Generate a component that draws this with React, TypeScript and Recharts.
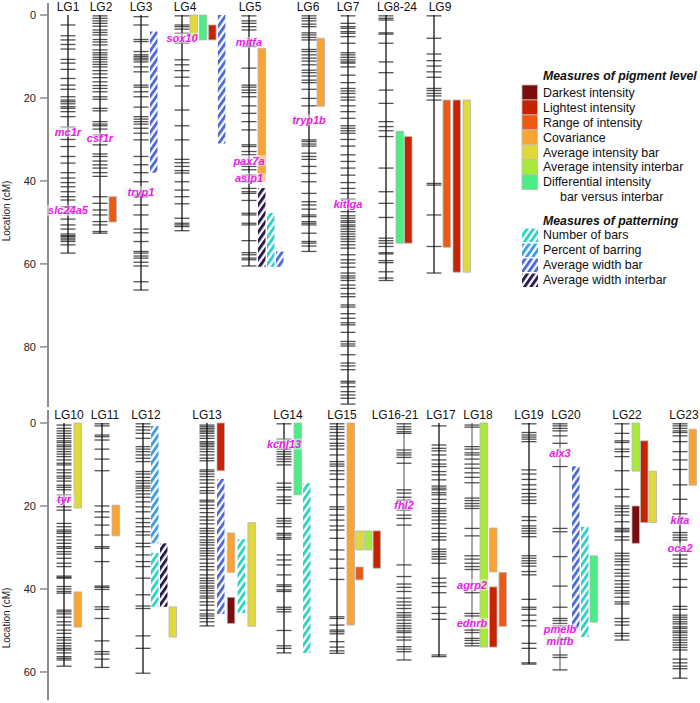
import React from 'react';
import {
  ScatterChart,
  Scatter,
  XAxis,
  YAxis,
  ReferenceArea,
  ReferenceLine,
  ReferenceDot,
} from 'recharts';

const FONT = '"Liberation Sans", Arial, Helvetica, sans-serif';
const GENE_COLOR = '#e61ee6';

// trait colours
const traitColors: Record<string, string> = {
  darkest: '#7b0d0d',
  lightest: '#c62300',
  range: '#ec5a14',
  covariance: '#fba333',
  avgBar: '#e1d83b',
  avgInterbar: '#a8ea3c',
  differential: '#4ced84',
  nBars: '#2dd2c5',
  pctBarring: '#3b9fe8',
  widthBar: '#4d6ad8',
  widthInterbar: '#2a1a4a',
};
const hatchedTraits = ['nBars', 'pctBarring', 'widthBar', 'widthInterbar'];

const pigmentLegend = [
  ['darkest', 'Darkest intensity'],
  ['lightest', 'Lightest intensity'],
  ['range', 'Range of intensity'],
  ['covariance', 'Covariance'],
  ['avgBar', 'Average intensity bar'],
  ['avgInterbar', 'Average intensity interbar'],
  ['differential', 'Differential intensity'],
];
const patternLegend = [
  ['nBars', 'Number of bars'],
  ['pctBarring', 'Percent of barring'],
  ['widthBar', 'Average width bar'],
  ['widthInterbar', 'Average width interbar'],
];

// marker positions (cM) per linkage group
const lg1 = [2.4, 5, 6, 7.1, 8.2, 10.7, 11.6, 13.1, 15.3, 16.9, 17.9, 19.7, 20.5, 20.9, 21.4, 22.1, 22.5, 23.3, 24.5, 27, 30, 31.7, 34.1, 35.7, 38, 39.3, 40.4, 41.4, 42.6, 43.8, 44.6, 46.2, 47.8, 49.2, 50.6, 51.6, 52.8, 53.2, 53.4, 53.8, 54.2, 54.6, 55.4, 57.4];
const lg2 = [0.2, 0.8, 1.4, 2, 2.7, 3.6, 4.2, 4.8, 5.9, 6.5, 7.2, 8.4, 9.1, 9.6, 10.2, 10.7, 11.3, 11.9, 12.5, 13.4, 14.2, 15.1, 16.1, 17, 17.7, 18.5, 19.7, 20.3, 22.5, 23.1, 25.7, 26.3, 26.7, 27.5, 28.9, 31.3, 33.5, 34.1, 35.2, 36.1, 36.9, 38, 38.9, 43.8, 45.4, 47, 48.2, 49.8, 50.6, 52.2, 52.6];
const lg3 = [0.4, 2.4, 5.9, 6.4, 8.8, 9.6, 10, 10.4, 10.8, 11.3, 12.5, 13.7, 16.9, 17.4, 18.5, 19.7, 22.2, 24.5, 25.1, 25.7, 26.3, 27.3, 28.5, 30.1, 34.1, 36.1, 38, 40.2, 43.4, 43.8, 45.8, 48.2, 51.6, 52.5, 54.6, 57, 57.4, 58.1, 58.6, 59.6, 60.5, 64.3, 66.3];
const lg4 = [0.2, 2.4, 2.8, 3.4, 4.4, 6.8, 10.8, 12, 13.4, 15, 17.1, 22.9, 26.7, 30.1, 34.8, 35.6, 36.5, 37.5, 38.1, 40.2, 42.2, 43.8, 45.5, 49, 50.2, 50.6, 51, 52];
const lg5 = [0.2, 1.4, 2, 2.8, 3.6, 7.6, 12.8, 16.9, 17.4, 18.1, 18.7, 19.7, 21.9, 23.7, 25.7, 27.7, 31.3, 31.7, 32.9, 33.7, 35.9, 36.5, 37.3, 38.6, 40.2, 41.8, 42.6, 43, 44.7, 47.8, 48.2, 50.2, 50.6, 54.4, 57.3, 57.8, 58.6, 59, 60.5];
const lg6 = [0.2, 0.8, 1.4, 2.2, 2.8, 4.3, 4.8, 5.4, 6, 8.3, 8.8, 9.6, 10.4, 11.1, 12, 13.3, 13.9, 14.7, 15.7, 16.3, 17.9, 20.1, 21.9, 30.1, 30.5, 31.1, 31.6, 33.3, 34.1, 34.8, 36.5, 38.2, 40.2, 43, 45, 45.8, 46.8, 48.2, 48.6, 49.8, 50.2, 50.6, 52.6, 54.6, 55, 55.7, 57];
const lg7 = [0.2, 2, 2.8, 3.2, 4, 4.4, 5.2, 6.8, 9.1, 9.6, 10.2, 10.8, 11.3, 11.6, 12.5, 14.5, 16.3, 17.7, 18.3, 18.9, 19.8, 20.5, 21.9, 23.3, 24.9, 26.7, 27.3, 27.9, 28.5, 30, 31.6, 33.7, 35.3, 36.9, 38.6, 40.4, 41.8, 43, 44.4, 47.4, 48.4, 49, 49.6, 50, 50.6, 51, 51.6, 52.2, 52.8, 53.4, 54, 54.6, 55.4, 56.2, 57.8, 59, 59.8, 60.8, 62.2, 62.9, 63.4, 64, 65.1, 65.9, 67.2, 67.9, 69.9, 70.4, 72, 73.1, 74.2, 74.7, 76.5, 78.7, 79.3, 79.8, 81.9, 83.9, 84.6, 85.5, 88.3, 88.7, 89.6, 90.8, 91.6, 92.4, 93.8];
const lg8_24 = [0.2, 0.8, 1.2, 4.3, 4.6, 6.8, 11.3, 13.9, 18.1, 21.3, 25.7, 26.9, 27.9, 29.3, 36.9, 42.6, 45.4, 48.8, 53.8, 54.4, 55, 55.8, 57.3, 57.6, 59.2, 59.7, 61.9, 63.4, 64];
const lg9 = [0.2, 5.6, 9.4, 11, 12.3, 13.7, 15, 17.7, 18.2, 18.9, 19.5, 20.5, 40.6, 41, 48.2, 55.8, 62.2];
const lg10 = [0.5, 1.3, 1.9, 2.5, 3.1, 3.7, 4.3, 4.7, 5.3, 5.7, 6.3, 6.9, 7.5, 8.1, 8.9, 9.7, 10.1, 11.3, 12, 12.8, 13.3, 14, 15, 15.5, 16.1, 17.3, 18.6, 20.2, 21, 24.2, 25, 25.8, 26.2, 26.6, 27.4, 28.2, 29, 29.8, 30.2, 31, 31.6, 32.6, 33.8, 34.6, 36.9, 37.2, 37.4, 39.4, 40, 40.6, 41, 45.1, 45.5, 46, 46.8, 47.9, 48.7, 49.9, 50.7, 51.7, 52.3, 53.1, 53.7, 54.3, 54.7, 55.4, 56.3, 56.7, 57.1, 58.6];
const lg11 = [0.2, 0.7, 2.9, 3.3, 4.1, 6.3, 8.7, 11.5, 20, 21.4, 22.7, 24.6, 27, 29.8, 30.2, 33.4, 39.3, 39.6, 40.1, 44.3, 44.9, 47.1, 52.5, 55.1, 55.7, 56.9, 58.9];
const lg12 = [0.2, 0.9, 1.7, 2.5, 3.7, 5.7, 6.3, 6.9, 7.7, 8.5, 9.3, 11.7, 12.3, 13.1, 13.9, 14.5, 15.2, 15.7, 16.3, 17.1, 17.9, 19, 20.2, 21.4, 23, 24, 25, 26.2, 27, 29, 29.8, 31.8, 33.4, 34.6, 37.4, 41.4, 44.1, 44.7, 51.3, 54.3, 60.3];
const lg13 = [0.5, 0.9, 1.3, 1.7, 2.1, 2.5, 3.1, 3.7, 4.5, 4.9, 5.3, 5.7, 6.3, 6.9, 7.7, 8.5, 9.1, 11.3, 11.7, 12.3, 12.9, 13.7, 14.5, 15.5, 16.3, 16.9, 18.6, 19, 19.8, 20.6, 21.6, 22.6, 23.4, 24.3, 25.4, 26, 26.6, 27.4, 28.2, 28.8, 29.4, 30.2, 30.8, 31.4, 32, 32.8, 33.8, 34.6, 35.4, 36.6, 37.4, 38, 38.6, 39.3, 39.8, 40.4, 41, 41.7, 42.2, 43.1, 43.9, 45.1, 46, 46.5, 47.1, 47.9, 48.9];
const lg14 = [0.2, 3.9, 4.5, 6.3, 6.9, 7.5, 8.1, 8.7, 9.3, 10.1, 14.5, 15.5, 16.1, 17.8, 18.6, 19.4, 23, 23.6, 24.2, 25, 26.6, 27, 27.6, 28, 31.8, 33, 34.2, 36.6, 39, 39.4, 40.2, 40.6, 44.4, 44.9, 45.5, 50, 53.7, 54.3, 55.4];
const lg15 = [0.2, 0.9, 1.5, 2.3, 3.1, 3.9, 4.9, 5.5, 6.3, 7.7, 9.3, 9.9, 10.4, 11.5, 12.3, 13.6, 15.4, 17.3, 20.2, 20.8, 22.2, 23.4, 24.8, 25.8, 27.8, 30.6, 32.8, 35, 37.7, 46.7, 47.1, 48.7, 49.9, 50.3, 50.8, 52.7, 54, 54.9, 55.5];
const lg16_21 = [0.2, 0.9, 1.5, 2.1, 2.5, 6.5, 7.2, 7.7, 8.3, 9.7, 16.1, 16.9, 17.9, 18.6, 21, 22.2, 23, 24.6, 34.2, 37, 38.8, 39.6, 40.6, 42.2, 43.1, 43.9, 44.7, 45.7, 46.3, 46.8, 47.5, 48.3, 48.9, 49.5, 50.1, 50.5, 51.6, 52.3, 53.9, 54.5, 55.1, 57.1];
const lg17 = [0.7, 5.3, 6.1, 6.7, 7.7, 8.9, 9.9, 10.5, 11.7, 12.5, 13.7, 15.2, 15.7, 16.1, 16.8, 17.3, 18.4, 19.4, 20.6, 21.2, 21.8, 22.6, 23.4, 24.3, 25.4, 26.6, 27.4, 28.2, 30.4, 31, 31.6, 32.2, 32.8, 33.8, 37.4, 38.5, 39.4, 40.9, 44.4, 45.9, 47.3, 55.9, 56.3];
const lg18 = [0.5, 1, 5.7, 6.3, 7.2, 7.7, 8.7, 9.9, 10.9, 12, 13.1, 14.4, 18.1, 18.7, 19.4, 20, 20.6, 25.4, 27.2, 32, 32.8, 33.8, 34.6, 35.3, 40.9, 45.9, 46.5, 49.9, 50.5, 51.9, 52.4, 53.1, 53.7];
const lg19 = [0.2, 2.3, 2.9, 3.4, 3.9, 4.5, 11.3, 12.3, 13.6, 14.9, 16, 17, 17.8, 18.6, 19.4, 22.6, 23.5, 24.8, 25.4, 26, 26.6, 27.4, 32, 32.6, 33.2, 33.8, 34.5, 35.8, 36.6, 42.5, 44.4, 44.9, 46.3, 47.6, 48.9, 53.1, 54.3, 57.8, 58.1];
const lg20 = [0.2, 0.7, 1.3, 1.9, 3.1, 4.9, 10.5, 25.4, 26.2, 32.2, 39.3, 44.4, 47.1, 47.6, 48.3, 48.9, 55.9, 56.5, 59.5];
const lg22 = [0.2, 2.5, 4.3, 4.7, 6.3, 6.9, 8.1, 11.5, 16, 17.8, 20, 20.6, 21.4, 22.2, 23.8, 25.4, 25.8, 26.2, 27.4, 28.2, 31.4, 32, 32.8, 33.4, 34.2, 35.3, 36.2, 36.9, 38, 38.8, 39.6, 40.4, 41, 42, 43.1, 43.6, 47.1, 47.9, 48.7, 50.7, 51.3, 52.3];
const lg23 = [0.2, 0.7, 1.3, 1.9, 2.3, 3.1, 4.5, 6.9, 8.9, 11.2, 14.9, 18.4, 21.9, 26.4, 27, 27.6, 28.2, 31.8, 32.8, 33.8, 34.6, 37.7, 39.6, 44.2, 44.9, 46.3, 46.8, 47.3, 47.9, 48.4, 49.1, 49.5, 50.1, 50.5, 51.1, 51.7, 52.3, 52.9, 53.5, 54.1, 54.7, 56.9, 57.8, 58.6, 59.2, 61.5];

const markers: Record<string, number[]> = {
  LG1: lg1, LG2: lg2, LG3: lg3, LG4: lg4, LG5: lg5, LG6: lg6, LG7: lg7, 'LG8-24': lg8_24, LG9: lg9,
  LG10: lg10, LG11: lg11, LG12: lg12, LG13: lg13, LG14: lg14, LG15: lg15, 'LG16-21': lg16_21,
  LG17: lg17, LG18: lg18, LG19: lg19, LG20: lg20, LG22: lg22, LG23: lg23,
};

// QTL intervals: [group, lane, trait, start cM, end cM]
type Qtl = [string, number, string, number, number];
const topQtls: Qtl[] = [
  ['LG2', 0, 'range', 43.8, 49.9],
  ['LG3', 0, 'widthBar', 4, 38],
  ['LG4', 0, 'avgBar', 0, 6],
  ['LG4', 1, 'differential', 0, 6],
  ['LG4', 2, 'lightest', 2.4, 6],
  ['LG4', 3, 'widthBar', 0, 31],
  ['LG5', 0, 'covariance', 8, 40],
  ['LG5', 0, 'widthInterbar', 41.7, 60.7],
  ['LG5', 1, 'nBars', 47.7, 60.7],
  ['LG5', 2, 'widthBar', 57, 60.7],
  ['LG6', 0, 'covariance', 5.6, 22],
  ['LG8-24', 0, 'differential', 28, 55],
  ['LG8-24', 1, 'lightest', 29.3, 55],
  ['LG9', 0, 'range', 20.5, 56],
  ['LG9', 1, 'lightest', 20.5, 62],
  ['LG9', 2, 'avgBar', 20.5, 62],
];
const bottomQtls: Qtl[] = [
  ['LG10', 0, 'avgBar', 0, 20.5],
  ['LG10', 0, 'covariance', 40.7, 49.2],
  ['LG11', 0, 'covariance', 19.8, 27.2],
  ['LG12', 0, 'pctBarring', 0.7, 29],
  ['LG12', 0, 'nBars', 31.3, 44.3],
  ['LG12', 1, 'widthInterbar', 29, 44.3],
  ['LG12', 2, 'avgBar', 44.3, 51.6],
  ['LG13', 0, 'lightest', 0, 11.5],
  ['LG13', 0, 'widthBar', 13.5, 46],
  ['LG13', 1, 'covariance', 26.5, 36],
  ['LG13', 1, 'darkest', 42, 48.3],
  ['LG13', 2, 'nBars', 28, 45.8],
  ['LG13', 3, 'avgBar', 24, 49],
  ['LG14', 0, 'differential', 0, 17.3],
  ['LG14', 1, 'nBars', 14.5, 55.4],
  ['LG15', 0, 'covariance', 0, 48.7],
  ['LG15', 1, 'avgBar', 26, 30.6],
  ['LG15', 2, 'avgInterbar', 26, 30.6],
  ['LG15', 3, 'lightest', 26, 35],
  ['LG15', 1, 'range', 34.7, 37.8],
  ['LG18', 0, 'avgInterbar', 0, 54],
  ['LG18', 1, 'covariance', 25.3, 35.9],
  ['LG18', 1, 'lightest', 39.5, 54],
  ['LG18', 2, 'range', 36, 49],
  ['LG20', 0, 'widthBar', 10.4, 50],
  ['LG20', 1, 'nBars', 25, 51.6],
  ['LG20', 2, 'differential', 32, 48],
  ['LG22', 0, 'avgInterbar', 0, 11.6],
  ['LG22', 1, 'lightest', 4.3, 24],
  ['LG22', 2, 'avgBar', 11.6, 24],
  ['LG22', 0, 'darkest', 20, 29],
  ['LG23', 0, 'covariance', 1.5, 15],
];

// candidate genes: [group, gene, cM]
type Gene = [string, string, number];
const topGenes: Gene[] = [
  ['LG1', 'mc1r', 28.1], ['LG1', 'slc24a5', 47.1], ['LG2', 'csf1r', 29.6], ['LG3', 'tryp1', 42.6],
  ['LG4', 'sox10', 5.6], ['LG5', 'mitfa', 6.6], ['LG5', 'pax7a', 35.1], ['LG5', 'asip1', 39.4],
  ['LG6', 'tryp1b', 25.3], ['LG7', 'kitlga', 45.6],
];
const bottomGenes: Gene[] = [
  ['LG10', 'tyr', 18.4], ['LG14', 'kcnj13', 5.1], ['LG16-21', 'fhl2', 19.8], ['LG18', 'agrp2', 39],
  ['LG18', 'ednrb', 48.3], ['LG20', 'alx3', 7.3], ['LG20', 'pmelb', 49.7], ['LG20', 'mitfb', 52.6],
  ['LG23', 'kita', 23.4], ['LG23', 'oca2', 30.2],
];

// track layout along the horizontal axis
type Group = { name: string; x: number; labelX: number; laneStart?: number; laneStep?: number; grey?: boolean };
const topGroups: Group[] = [
  { name: 'LG1', x: 68, labelX: 68 },
  { name: 'LG2', x: 100, labelX: 101 },
  { name: 'LG3', x: 141, labelX: 141 },
  { name: 'LG4', x: 182, labelX: 185, laneStart: 8, laneStep: 9.3 },
  { name: 'LG5', x: 249, labelX: 250 },
  { name: 'LG6', x: 309, labelX: 308, laneStart: 8 },
  { name: 'LG7', x: 348, labelX: 348 },
  { name: 'LG8-24', x: 386, labelX: 397, laneStart: 10, laneStep: 8.5 },
  { name: 'LG9', x: 434, labelX: 440, laneStep: 10 },
];
const bottomGroups: Group[] = [
  { name: 'LG10', x: 64, labelX: 69, laneStart: 10 },
  { name: 'LG11', x: 102, labelX: 105, laneStart: 10 },
  { name: 'LG12', x: 143, labelX: 146, laneStart: 8 },
  { name: 'LG13', x: 207, labelX: 207, laneStart: 10, laneStep: 10.3 },
  { name: 'LG14', x: 284, labelX: 288, laneStart: 10 },
  { name: 'LG15', x: 337, labelX: 342, laneStart: 10, laneStep: 8.7 },
  { name: 'LG16-21', x: 404, labelX: 395, grey: true },
  { name: 'LG17', x: 439, labelX: 441 },
  { name: 'LG18', x: 472, labelX: 478, laneStart: 8, laneStep: 9.5, grey: true },
  { name: 'LG19', x: 529, labelX: 529 },
  { name: 'LG20', x: 560, labelX: 566, laneStart: 12, grey: true },
  { name: 'LG22', x: 622, labelX: 627, laneStart: 10, laneStep: 8.5 },
  { name: 'LG23', x: 680, labelX: 684 },
];

const BAR_W = 7.5;

const HatchDefs = ({ prefix }: { prefix: string }) => (
  <defs>
    {hatchedTraits.map((t) => (
      <pattern
        key={t}
        id={`${prefix}-${t}`}
        patternUnits="userSpaceOnUse"
        width={5.2}
        height={5.2}
        patternTransform="rotate(35)"
      >
        <rect width={5.2} height={5.2} fill="#fff" />
        <rect width={2.9} height={5.2} fill={traitColors[t]} />
      </pattern>
    ))}
  </defs>
);

const MarkerTick = (props: any) => {
  const { cx, cy } = props;
  if (cx == null || cy == null) return null;
  return (
    <line x1={cx - 7.5} x2={cx + 7.5} y1={cy} y2={cy} stroke="#111" strokeOpacity={0.72} strokeWidth={1.3} />
  );
};

const geneLabel = (name: string) => (props: any) => {
  const vb = props.viewBox || {};
  const cx = (vb.x || 0) + (vb.width || 0) / 2;
  const cy = (vb.y || 0) + (vb.height || 0) / 2;
  const w = name.length * 6.3 + 2;
  return (
    <g>
      <rect x={cx - w / 2} y={cy - 5.5} width={w} height={11} fill="#f2f2f2" fillOpacity={0.55} />
      <text
        x={cx}
        y={cy}
        textAnchor="middle"
        dominantBaseline="central"
        fill={GENE_COLOR}
        fontSize={11}
        fontWeight="bold"
        fontStyle="italic"
        fontFamily={FONT}
      >
        {name}
      </text>
    </g>
  );
};

const groupLabel = (name: string) => (props: any) => {
  const vb = props.viewBox || {};
  const cx = (vb.x || 0) + (vb.width || 0) / 2;
  const cy = (vb.y || 0) + (vb.height || 0) / 2;
  return (
    <text x={cx} y={cy} textAnchor="middle" dominantBaseline="central" fill="#111" fontSize={12} fontFamily={FONT}>
      {name}
    </text>
  );
};

const axisTitle = (shift: number) => (props: any) => {
  const vb = props.viewBox || {};
  const cy = (vb.y || 0) + (vb.height || 0) / 2 + shift;
  const cx = 6;
  return (
    <text
      x={cx}
      y={cy}
      transform={`rotate(-90 ${cx} ${cy})`}
      textAnchor="middle"
      dominantBaseline="central"
      fill="#222"
      fontSize={10}
      fontFamily={FONT}
    >
      Location (cM)
    </text>
  );
};

type PanelProps = {
  prefix: string;
  groups: Group[];
  qtls: Qtl[];
  genes: Gene[];
  top: number;
  height: number;
  margin: { top: number; bottom: number };
  yDomain: [number, number];
  yTicks: number[];
  nameY: number;
  titleShift: number;
};

const Panel = ({ prefix, groups, qtls, genes, top, height, margin, yDomain, yTicks, nameY, titleShift }: PanelProps) => {
  const byName: Record<string, Group> = {};
  groups.forEach((g) => (byName[g.name] = g));
  const points = groups.flatMap((g) => markers[g.name].map((cm) => ({ x: g.x, y: cm })));

  return (
    <div style={{ position: 'absolute', left: 0, top }}>
      <ScatterChart width={700} height={height} margin={{ top: margin.top, right: 0, bottom: margin.bottom, left: 0 }}>
        <HatchDefs prefix={prefix} />
        <XAxis type="number" dataKey="x" domain={[48, 700]} hide allowDataOverflow />
        <YAxis
          type="number"
          dataKey="y"
          domain={yDomain}
          reversed
          allowDataOverflow
          ticks={yTicks}
          width={48}
          tickSize={8}
          tickMargin={4}
          axisLine={{ stroke: '#8c8c8c', strokeWidth: 2 }}
          tickLine={{ stroke: '#8c8c8c', strokeWidth: 1.5 }}
          tick={{ fontSize: 11, fill: '#222', fontFamily: FONT }}
          label={{ content: axisTitle(titleShift) }}
        />
        {groups.map((g) => (
          <ReferenceLine
            key={`line-${g.name}`}
            segment={[
              { x: g.x, y: 0 },
              { x: g.x, y: Math.max(...markers[g.name]) },
            ]}
            stroke={g.grey ? '#8a8a8a' : '#333'}
            strokeWidth={1.5}
            ifOverflow="visible"
          />
        ))}
        <Scatter data={points} shape={MarkerTick} isAnimationActive={false} />
        {qtls.map(([lg, lane, trait, start, end], i) => {
          const g = byName[lg];
          const x1 = g.x + (g.laneStart ?? 9) + lane * (g.laneStep ?? 9);
          const hatched = hatchedTraits.includes(trait);
          return (
            <ReferenceArea
              key={`q-${i}`}
              x1={x1}
              x2={x1 + BAR_W}
              y1={start}
              y2={end}
              fill={hatched ? `url(#${prefix}-${trait})` : traitColors[trait]}
              fillOpacity={1}
              stroke={hatched ? 'none' : '#b5b5b5'}
              strokeWidth={0.8}
              ifOverflow="visible"
            />
          );
        })}
        {genes.map(([lg, name, cm]) => (
          <ReferenceDot
            key={`g-${name}`}
            x={byName[lg].x}
            y={cm}
            r={0}
            fill="none"
            stroke="none"
            ifOverflow="visible"
            label={geneLabel(name)}
          />
        ))}
        {groups.map((g) => (
          <ReferenceDot
            key={`n-${g.name}`}
            x={g.labelX}
            y={nameY}
            r={0}
            fill="none"
            stroke="none"
            ifOverflow="visible"
            label={groupLabel(g.name)}
          />
        ))}
      </ScatterChart>
    </div>
  );
};

const LegendBox = () => {
  const step = 14.95;
  return (
    <svg
      width={700}
      height={703}
      style={{ position: 'absolute', left: 0, top: 0, pointerEvents: 'none' }}
      fontFamily={FONT}
    >
      <HatchDefs prefix="leg" />
      <text x={543} y={76} dominantBaseline="central" fontSize={12.3} fontWeight="bold" fontStyle="italic" fill="#111">
        Measures of pigment level
      </text>
      {pigmentLegend.map(([key, label], i) => (
        <g key={key}>
          <rect x={522} y={85 + i * step} width={15.5} height={step} fill={traitColors[key]} stroke="#bdbdbd" strokeWidth={0.8} />
          <text x={543} y={92.7 + i * step} dominantBaseline="central" fontSize={12.4} fill="#111">
            {label}
          </text>
        </g>
      ))}
      <text x={560} y={197.3} dominantBaseline="central" fontSize={12.4} fill="#111">
        bar versus interbar
      </text>
      <text x={543} y={220.7} dominantBaseline="central" fontSize={12.3} fontWeight="bold" fontStyle="italic" fill="#111">
        Measures of patterning
      </text>
      {patternLegend.map(([key, label], i) => (
        <g key={key}>
          <rect x={522} y={228.5 + i * 15} width={16} height={13.5} fill={`url(#leg-${key})`} />
          <text x={543} y={235.3 + i * 15} dominantBaseline="central" fontSize={12.4} fill="#111">
            {label}
          </text>
        </g>
      ))}
    </svg>
  );
};

export default function App() {
  return (
    <div style={{ position: 'absolute', left: 0, top: 0, width: 700, height: 703, background: '#fff', fontFamily: FONT }}>
      <Panel
        prefix="top"
        groups={topGroups}
        qtls={topQtls}
        genes={topGenes}
        top={0}
        height={410}
        margin={{ top: 3, bottom: 3 }}
        yDomain={[-2.9, 94.5]}
        yTicks={[0, 20, 40, 60, 80]}
        nameY={-2.05}
        titleShift={6}
      />
      <Panel
        prefix="bot"
        groups={bottomGroups}
        qtls={bottomQtls}
        genes={bottomGenes}
        top={405}
        height={298}
        margin={{ top: 5, bottom: 3 }}
        yDomain={[-3.13, 66.75]}
        yTicks={[0, 20, 40, 60]}
        nameY={-1.85}
        titleShift={63}
      />
      <LegendBox />
    </div>
  );
}
